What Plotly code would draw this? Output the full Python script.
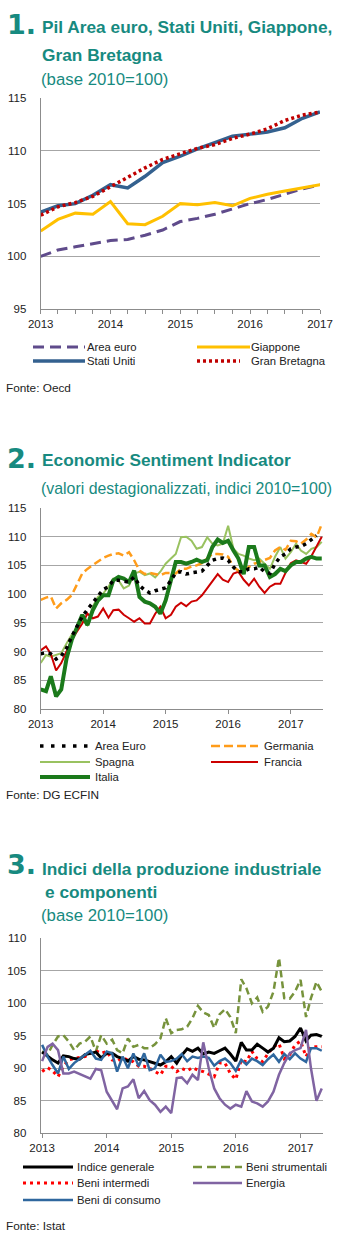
import plotly.graph_objects as go
import pandas as pd

W, H = 350, 1235
FONT = "Liberation Sans, Arial, sans-serif"
TEAL = "#178a80"
GRID = "#a6a6a6"
AXIS = "#8c8c8c"
TXT = "#222222"

# ---------------- Chart 1: PIL (quarterly, base 2010=100) ----------------
q_dates = pd.date_range("2013-01-01", "2017-01-01", freq="QS")
pil_area_euro = [100.0, 100.6, 100.9, 101.2, 101.5, 101.6, 102.0, 102.5, 103.3,
                 103.6, 104.0, 104.5, 105.0, 105.4, 105.9, 106.4, 106.8]
pil_giappone = [102.4, 103.5, 104.1, 104.0, 105.2, 103.1, 103.0, 103.8, 105.0,
                104.9, 105.1, 104.8, 105.5, 105.9, 106.2, 106.5, 106.8]
pil_stati_uniti = [104.2, 104.8, 105.0, 105.8, 106.8, 106.5, 107.6, 108.9, 109.5,
                   110.2, 110.8, 111.4, 111.6, 111.8, 112.2, 113.1, 113.7]
pil_gran_bretagna = [103.9, 104.7, 105.1, 105.7, 106.6, 107.5, 108.4, 109.2, 109.7,
                     110.25, 110.6, 111.2, 111.6, 112.1, 112.9, 113.4, 113.7]

# ---------------- Chart 2: Economic Sentiment Indicator (monthly) ----------------
m_dates_esi = pd.date_range("2013-01-01", "2017-07-01", freq="MS")
esi_area_euro = [89.6, 89.8, 89.6, 88.7, 89.2, 90.6, 92.6, 94.3, 96.1, 97.3,
                 98.4, 99.6, 100.8, 101.3, 102.4, 102.4, 102.2, 102.1, 103.0, 101.5,
                 100.7, 100.2, 100.6, 100.8, 101.1, 102.4, 103.7, 103.9, 103.5, 103.7,
                 103.9, 104.0, 105.0, 105.9, 106.2, 106.3, 105.9, 104.7, 103.9, 103.9,
                 104.4, 104.4, 104.7, 103.9, 103.6, 105.3, 106.5, 107.0, 107.9, 108.2,
                 108.3, 108.8, 109.5, 110.2, None]
esi_germania = [99.0, 99.4, 99.6, 97.5, 98.4, 99.0, 99.8, 101.8, 103.6, 104.4,
                105.0, 105.7, 106.3, 106.7, 107.0, 107.1, 106.7, 107.3, 105.9, 104.1,
                103.5, 103.7, 103.5, 103.3, 103.7, 103.6, 103.6, 104.4, 104.4, 104.8,
                105.0, 105.4, 106.2, 107.0, 107.0, 106.9, 106.5, 104.7, 104.1, 104.4,
                104.7, 105.3, 105.6, 105.9, 106.3, 107.6, 108.2, 107.7, 109.3, 109.2,
                108.8, 109.5, 110.5, 109.9, 112.2]
esi_spagna = [88.0, 89.4, 89.1, 89.4, 89.7, 91.4, 92.9, 94.0, 95.5, 94.6,
              97.8, 99.5, 100.1, 101.3, 102.7, 102.4, 101.0, 101.5, 103.6, 103.9,
              103.3, 103.6, 102.9, 103.9, 105.3, 106.2, 107.0, 109.9, 110.0, 109.3,
              107.9, 108.2, 109.9, 108.8, 108.5, 108.8, 111.9, 107.9, 107.0, 106.7,
              106.2, 105.9, 106.2, 105.3, 104.4, 106.5, 108.2, 106.2, 107.3, 108.8,
              107.6, 107.0, 107.9, 108.2, 109.1]
esi_francia = [90.2, 90.9, 89.6, 86.7, 88.0, 90.0, 92.0, 93.5, 94.9, 96.6,
               95.8, 96.1, 97.5, 95.9, 97.2, 97.3, 96.4, 95.8, 95.2, 95.8,
               94.9, 94.9, 96.6, 97.8, 95.8, 96.4, 97.8, 98.5, 97.9, 98.7,
               98.9, 99.8, 101.0, 102.1, 103.5, 102.5, 102.1, 103.6, 103.9, 102.5,
               101.5, 102.7, 101.3, 100.2, 101.3, 101.8, 101.8, 103.7, 105.4, 105.9,
               105.6, 105.3, 106.6, 108.2, 110.0]
esi_italia = [83.4, 83.1, 85.7, 82.2, 83.4, 88.8, 92.0, 94.3, 96.4, 94.6,
              97.2, 98.9, 99.8, 99.8, 102.4, 103.0, 102.7, 102.1, 104.1, 99.5,
              98.7, 98.4, 97.8, 96.6, 98.9, 102.4, 105.6, 105.6, 105.3, 105.6,
              106.0, 105.6, 105.9, 108.2, 109.5, 108.9, 109.3, 107.6, 106.2, 103.5,
              108.2, 108.2, 105.0, 105.0, 103.0, 103.5, 104.4, 104.0, 105.0, 105.6,
              105.6, 106.2, 106.5, 106.2, 106.2]

# ---------------- Chart 3: Produzione industriale (monthly) ----------------
m_dates_pi = pd.date_range("2013-01-01", "2017-05-01", freq="MS")
pi_generale = [92.5, 91.8, 91.3, 90.8, 91.9, 91.8, 91.5, 91.4, 92.1, 92.3,
               92.5, 91.6, 92.3, 92.3, 91.8, 91.5, 91.1, 91.8, 91.4, 91.3,
               91.0, 90.8, 90.5, 91.0, 91.8, 90.8, 92.0, 93.0, 92.6, 93.1,
               92.2, 92.5, 92.3, 92.7, 93.1, 92.2, 91.1, 94.0, 92.8, 92.8,
               93.7, 93.1, 92.5, 93.1, 94.7, 94.1, 94.2, 94.9, 96.2, 94.2,
               95.1, 95.2, 94.9]
pi_strumentali = [92.6, 92.1, 93.6, 94.9, 95.1, 94.1, 92.8, 93.8, 94.1, 94.9,
                  92.6, 95.1, 93.8, 94.4, 92.8, 92.3, 94.6, 93.3, 93.6, 93.1,
                  93.1, 93.7, 94.6, 97.7, 95.4, 95.9, 96.0, 96.4, 97.7, 99.6,
                  98.6, 98.2, 96.2, 98.3, 99.1, 97.9, 95.4, 103.7, 102.3, 100.0,
                  100.9, 98.7, 99.5, 101.8, 107.0, 100.8, 100.7, 101.8, 103.6, 97.9,
                  100.8, 103.3, 101.8]
pi_intermedi = [89.5, 90.1, 89.6, 88.7, 90.3, 91.3, 91.5, 91.6, 91.8, 92.3,
                92.7, 92.3, 92.6, 91.3, 91.1, 91.6, 91.3, 91.0, 90.3, 90.3,
                90.0, 89.5, 89.0, 90.3, 90.3, 89.5, 90.0, 89.6, 90.1, 89.7,
                89.5, 89.1, 88.7, 90.8, 90.8, 89.2, 88.3, 91.3, 91.0, 92.6,
                91.5, 91.0, 92.3, 93.3, 93.8, 91.5, 92.1, 93.6, 94.2, 91.8,
                93.3, 93.3, 93.3]
pi_energia = [91.1, 93.3, 93.8, 92.8, 89.2, 89.2, 89.5, 89.1, 88.7, 88.4,
              89.9, 89.7, 86.4, 84.9, 83.7, 86.9, 87.2, 88.3, 85.4, 86.5,
              85.1, 84.4, 83.3, 84.1, 83.1, 88.5, 88.6, 87.7, 89.0, 88.2,
              94.0, 90.0, 86.9, 85.4, 84.4, 83.8, 84.4, 84.1, 86.5, 84.9,
              84.6, 84.1, 84.9, 86.4, 89.0, 90.8, 92.3, 92.8, 93.1, 95.9,
              90.0, 85.0, 86.9]
pi_consumo = [93.6, 91.8, 90.5, 89.2, 91.8, 89.9, 90.8, 91.5, 92.1, 92.7,
              91.5, 91.3, 92.6, 92.3, 89.5, 91.8, 90.0, 92.3, 90.3, 92.3,
              89.7, 90.0, 92.1, 91.0, 91.1, 91.5, 92.2, 91.1, 91.8, 91.6,
              91.8, 91.6, 90.4, 91.1, 91.5, 90.8, 89.6, 91.3, 90.6, 91.5,
              91.1, 90.5, 91.4, 92.1, 91.0, 92.2, 91.4, 92.3, 91.5, 91.0,
              93.1, 93.1, 92.7]

year_vals = ["2013-01-01", "2014-01-01", "2015-01-01", "2016-01-01", "2017-01-01"]
year_labels = ["2013", "2014", "2015", "2016", "2017"]

fig = go.Figure()

def add(x, y, name, color, width, dash, xa, ya):
    fig.add_trace(go.Scatter(x=x, y=y, name=name, mode="lines", showlegend=False,
                             line=dict(color=color, width=width, dash=dash),
                             xaxis=xa, yaxis=ya, connectgaps=False))

# chart 1
add(q_dates, pil_area_euro, "Area euro", "#5f4b8b", 3, "11px,6px", "x", "y")
add(q_dates, pil_giappone, "Giappone", "#ffc000", 3, "solid", "x", "y")
add(q_dates, pil_stati_uniti, "Stati Uniti", "#34618f", 3.5, "solid", "x", "y")
add(q_dates, pil_gran_bretagna, "Gran Bretagna", "#c00000", 3.5, "3px,3px", "x", "y")
# chart 2
add(m_dates_esi, esi_spagna, "Spagna", "#99c260", 2, "solid", "x2", "y2")
add(m_dates_esi, esi_francia, "Francia", "#cc0000", 2, "solid", "x2", "y2")
add(m_dates_esi, esi_germania, "Germania", "#ff9c1a", 2.5, "8px,4px", "x2", "y2")
add(m_dates_esi, esi_italia, "Italia", "#1b7a1b", 4, "solid", "x2", "y2")
add(m_dates_esi, esi_area_euro, "Area Euro", "#000000", 3.5, "3.5px,4.5px", "x2", "y2")
# chart 3
add(m_dates_pi, pi_strumentali, "Beni strumentali", "#77933c", 2.5, "7px,4px", "x3", "y3")
add(m_dates_pi, pi_intermedi, "Beni intermedi", "#ff0000", 3, "3px,4px", "x3", "y3")
add(m_dates_pi, pi_generale, "Indice generale", "#000000", 3, "solid", "x3", "y3")
add(m_dates_pi, pi_consumo, "Beni di consumo", "#2f679e", 2.5, "solid", "x3", "y3")
add(m_dates_pi, pi_energia, "Energia", "#8064a2", 2.5, "solid", "x3", "y3")

def xdom(l, r):
    return [l / W, r / W]

def ydom(top, bottom):
    return [1 - bottom / H, 1 - top / H]

tickfont = dict(family=FONT, size=11.5, color=TXT)

def xaxis(dom, rng, anchor, minor=None):
    d = dict(domain=dom, type="date", range=rng, tickvals=year_vals, ticktext=year_labels,
             ticks="outside", ticklen=4, tickcolor=AXIS, tickwidth=1, showline=True,
             linecolor=AXIS, linewidth=1, showgrid=False, zeroline=False, anchor=anchor,
             tickfont=tickfont, fixedrange=True, automargin=False)
    if minor:
        d["minor"] = minor
    return d

def yaxis(dom, rng, anchor):
    # transparent ticks only create the gap between labels and the axis
    return dict(domain=dom, range=rng, dtick=5, tick0=0, showgrid=True, gridcolor=GRID,
                gridwidth=1, showline=True, linecolor=AXIS, linewidth=1,
                ticks="outside", ticklen=11, tickcolor="rgba(0,0,0,0)",
                zeroline=False, anchor=anchor, tickfont=tickfont, fixedrange=True,
                automargin=False)

anns = []
shapes = []

def text(x, y, s, size, color=TXT, bold=False):
    anns.append(dict(x=x / W, y=1 - y / H, xref="paper", yref="paper",
                     text=("<b>%s</b>" % s) if bold else s, showarrow=False,
                     xanchor="left", yanchor="middle",
                     font=dict(size=size, color=color, family=FONT)))

def sample(x0, x1, y, color, width, dash):
    shapes.append(dict(type="line", xref="paper", yref="paper", x0=x0 / W, x1=x1 / W,
                       y0=1 - y / H, y1=1 - y / H,
                       line=dict(color=color, width=width, dash=dash)))

NUMFONT = "DejaVu Sans, Liberation Sans, sans-serif"
def number(x, y, s):
    anns.append(dict(x=x / W, y=1 - y / H, xref="paper", yref="paper",
                     text="<b>%s</b>" % s, showarrow=False, xanchor="left",
                     yanchor="middle", font=dict(size=27, color=TEAL, family=NUMFONT)))

LEG = 11.3
TSZ = 17.3
FONTE = 11.8
# chart 1 titles
number(5, 25, "1.")
text(40, 27, "Pil Area euro, Stati Uniti, Giappone,", TSZ, TEAL, True)
text(40, 55, "Gran Bretagna", TSZ, TEAL, True)
text(39, 80, "(base 2010=100)", 16.8, TEAL)
# chart 1 legend
sample(33, 85, 347, "#5f4b8b", 3, "11px,6px")
text(85, 347, "Area euro", LEG)
sample(197, 250, 347, "#ffc000", 3, "solid")
text(249, 347, "Giappone", LEG)
sample(33, 85, 361, "#34618f", 3.5, "solid")
text(85, 361, "Stati Uniti", LEG)
sample(197, 240, 361, "#c00000", 3.5, "3px,3px")
text(249, 361, "Gran Bretagna", LEG)
text(4, 388, "Fonte: Oecd", FONTE)

# chart 2 titles
number(5, 458, "2.")
text(40, 460, "Economic Sentiment Indicator", TSZ, TEAL, True)
text(39, 488, "(valori destagionalizzati, indici 2010=100)", 15.9, TEAL)
# chart 2 legend
sample(40, 90, 746, "#000000", 3.5, "3.5px,7.5px")
text(93, 746, "Area Euro", LEG)
sample(211, 258, 746, "#ff9c1a", 2.5, "9px,4px")
text(262, 746, "Germania", LEG)
sample(40, 90, 762, "#99c260", 2, "solid")
text(93, 762, "Spagna", LEG)
sample(211, 258, 762, "#cc0000", 2, "solid")
text(262, 762, "Francia", LEG)
sample(40, 90, 777, "#1b7a1b", 4, "solid")
text(93, 777, "Italia", LEG)
text(4, 795, "Fonte: DG ECFIN", FONTE)

# chart 3 titles
number(5, 865, "3.")
text(40, 869, "Indici della produzione industriale", TSZ, TEAL, True)
text(43, 892, "e componenti", TSZ, TEAL, True)
text(39, 915, "(base 2010=100)", 16.8, TEAL)
# chart 3 legend
sample(23, 73, 1167, "#000000", 3, "solid")
text(75, 1167, "Indice generale", LEG)
sample(193, 242, 1167, "#77933c", 2.5, "9px,5px")
text(244, 1167, "Beni strumentali", LEG)
sample(23, 73, 1183, "#ff0000", 3, "3px,4px")
text(75, 1183, "Beni intermedi", LEG)
sample(193, 242, 1183, "#8064a2", 2.5, "solid")
text(244, 1183, "Energia", LEG)
sample(23, 73, 1200, "#2f679e", 2.5, "solid")
text(75, 1200, "Beni di consumo", LEG)
text(4, 1226, "Fonte: Istat", FONTE)

fig.update_layout(
    width=W, height=H, autosize=False,
    margin=dict(l=0, r=0, t=0, b=0, pad=0),
    paper_bgcolor="white", plot_bgcolor="white",
    showlegend=False,
    font=dict(family=FONT, color=TXT),
    xaxis=xaxis(xdom(40.7, 320), ["2013-01-01", "2017-01-01"], "y",
                minor=dict(dtick="M3", tick0="2013-01-01", ticks="outside", ticklen=4,
                           tickcolor=AXIS, showgrid=False)),
    yaxis=yaxis(ydom(98.3, 309), [95, 115], "x"),
    xaxis2=xaxis(xdom(40.7, 323.3), ["2013-01-01", "2017-07-10"], "y2"),
    yaxis2=yaxis(ydom(508, 709), [80, 115], "x2"),
    xaxis3=xaxis(xdom(40.7, 323), ["2012-12-24", "2017-05-08"], "y3"),
    yaxis3=yaxis(ydom(938.3, 1133.3), [80, 110], "x3"),
    annotations=anns,
    shapes=shapes,
)

fig.write_html("out.html")
